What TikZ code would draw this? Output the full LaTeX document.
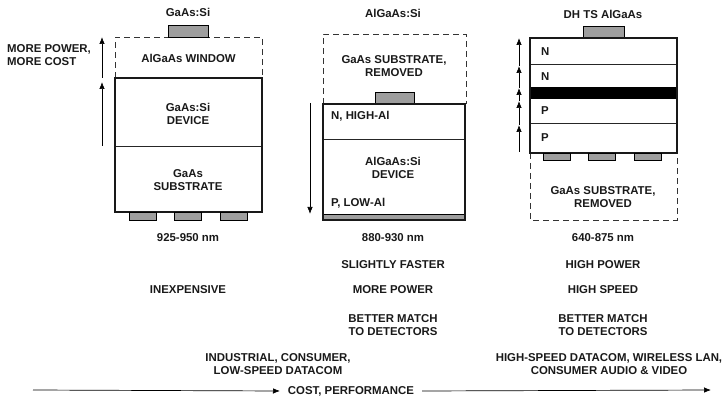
\documentclass[tikz,border=0pt]{standalone}
\usepackage{fontspec}
\setmainfont{Liberation Sans}
\usetikzlibrary{patterns,arrows.meta}
\definecolor{hatch}{gray}{0.62}
\tikzset{
  x=1pt,y=-1pt,
  lbl/.style={font=\bfseries\fontsize{11.4}{13.7}\selectfont,align=center,inner sep=0pt,text=black!90},
  lblw/.style={lbl,align=left,anchor=west},
  solidbox/.style={draw=black!90,line width=1.5pt},
  thinline/.style={draw=black!85,line width=0.7pt},
  dashbox/.style={draw=black!80,line width=0.8pt,dash pattern=on 6pt off 4pt},
  contact/.style={draw=black,line width=0.7pt,fill=hatch},
  arr/.style={draw=black,line width=0.7pt,-{Latex[length=7pt,width=5.5pt]}},
}
\begin{document}
\begin{tikzpicture}
\useasboundingbox (0,0) rectangle (723,398);
% column 1
\draw[dashbox] (115,78) -- (115,37) -- (262,37) -- (262,78);
\draw[contact] (168,25) rectangle (208,37);
\draw[thinline] (115,146) -- (262,146);
\draw[solidbox] (115,78) rectangle (262,212);
\foreach \a/\b in {129/156,174/201,220/247} \draw[contact] (\a,212.5) rectangle (\b,220);
\coordinate (a1s) at (102,78); \coordinate (a1e) at (102,37);
\coordinate (a2s) at (102,146); \coordinate (a2e) at (102,82);
\draw[arr] (a1s) -- (a1e);
\draw[arr] (a2s) -- (a2e);
\node[lbl] (t1) at (188,12) {GaAs:Si};
\node[lblw] (t2) at (7,55) {MORE POWER,\\MORE COST};
\node[lbl] (t3) at (188.5,58) {AlGaAs WINDOW};
\node[lbl] (t4) at (188,114) {GaAs:Si\\DEVICE};
\node[lbl] (t5) at (188,180) {GaAs\\SUBSTRATE};
\node[lbl] (t6) at (188,238) {925-950 nm};
\node[lbl] (t7) at (188,290) {INEXPENSIVE};
\node[lbl] (t8) at (278,364) {INDUSTRIAL, CONSUMER,\\LOW-SPEED DATACOM};
% column 2
\draw[dashbox] (323,104) -- (323,34) -- (466,34) -- (466,104);
\draw[contact] (375,92) rectangle (414,104);
\draw[contact] (323,214) rectangle (465,220);
\draw[thinline] (323,139) -- (465,139);
\draw[solidbox] (323,104) rectangle (465,220);
\coordinate (a3s) at (310,103); \coordinate (a3e) at (310,214);
\draw[arr] (a3s) -- (a3e);
\node[lbl] (u1) at (393,13) {AlGaAs:Si};
\node[lbl] (u2) at (394,66) {GaAs SUBSTRATE,\\REMOVED};
\node[lblw] (u3) at (331,116) {N, HIGH-Al};
\node[lbl] (u4) at (393,168) {AlGaAs:Si\\DEVICE};
\node[lblw] (u5) at (331,203) {P, LOW-Al};
\node[lbl] (u6) at (393,238) {880-930 nm};
\node[lbl] (u7) at (393,265) {SLIGHTLY FASTER};
\node[lbl] (u8) at (393,290) {MORE POWER};
\node[lbl] (u9) at (393,325) {BETTER MATCH\\TO DETECTORS};
% column 3
\draw[dashbox] (530,153) -- (530,220) -- (677,220) -- (677,153);
\draw[contact] (583,26) rectangle (624,38);
\fill[black] (530,87) rectangle (677,99.5);
\draw[thinline] (530,64) -- (677,64);
\draw[thinline] (530,123) -- (677,123);
\draw[solidbox] (530,38) rectangle (677,153);
\foreach \a/\b in {543/570,588/615,634/661} \draw[contact] (\a,153.5) rectangle (\b,160);
\coordinate (b0) at (519,152);
\coordinate (b1) at (519,125); \coordinate (b2) at (519,101);
\coordinate (b3) at (519,88); \coordinate (b4) at (519,66); \coordinate (b5) at (519,38);
\draw[arr] (b0) -- (b1);
\draw[arr] (b1) -- (b2);
\draw[arr] (b2) -- (b3);
\draw[arr] (b3) -- (b4);
\draw[arr] (b4) -- (b5);
\node[lbl] (v1) at (603,14) {DH TS AlGaAs};
\node[lblw] (v2) at (541,52) {N};
\node[lblw] (v3) at (541,77) {N};
\node[lblw] (v4) at (541,111) {P};
\node[lblw] (v5) at (541,138) {P};
\node[lbl] (v6) at (603,197) {GaAs SUBSTRATE,\\REMOVED};
\node[lbl] (v7) at (603,238) {640-875 nm};
\node[lbl] (v8) at (603,265) {HIGH POWER};
\node[lbl] (v9) at (603,290) {HIGH SPEED};
\node[lbl] (v10) at (603,325) {BETTER MATCH\\TO DETECTORS};
\node[lbl] (v11) at (609,364) {HIGH-SPEED DATACOM, WIRELESS LAN,\\CONSUMER AUDIO \& VIDEO};
% bottom axis
\node[lbl] (cp) at (351,391) {COST, PERFORMANCE};
\coordinate (l0) at (33,390); \coordinate (r1) at (711,390);
\draw[arr] (l0) -- (cp.west -| 280,390);
\draw[arr] (cp.east -| 422,390) -- (r1);
\end{tikzpicture}
\end{document}
